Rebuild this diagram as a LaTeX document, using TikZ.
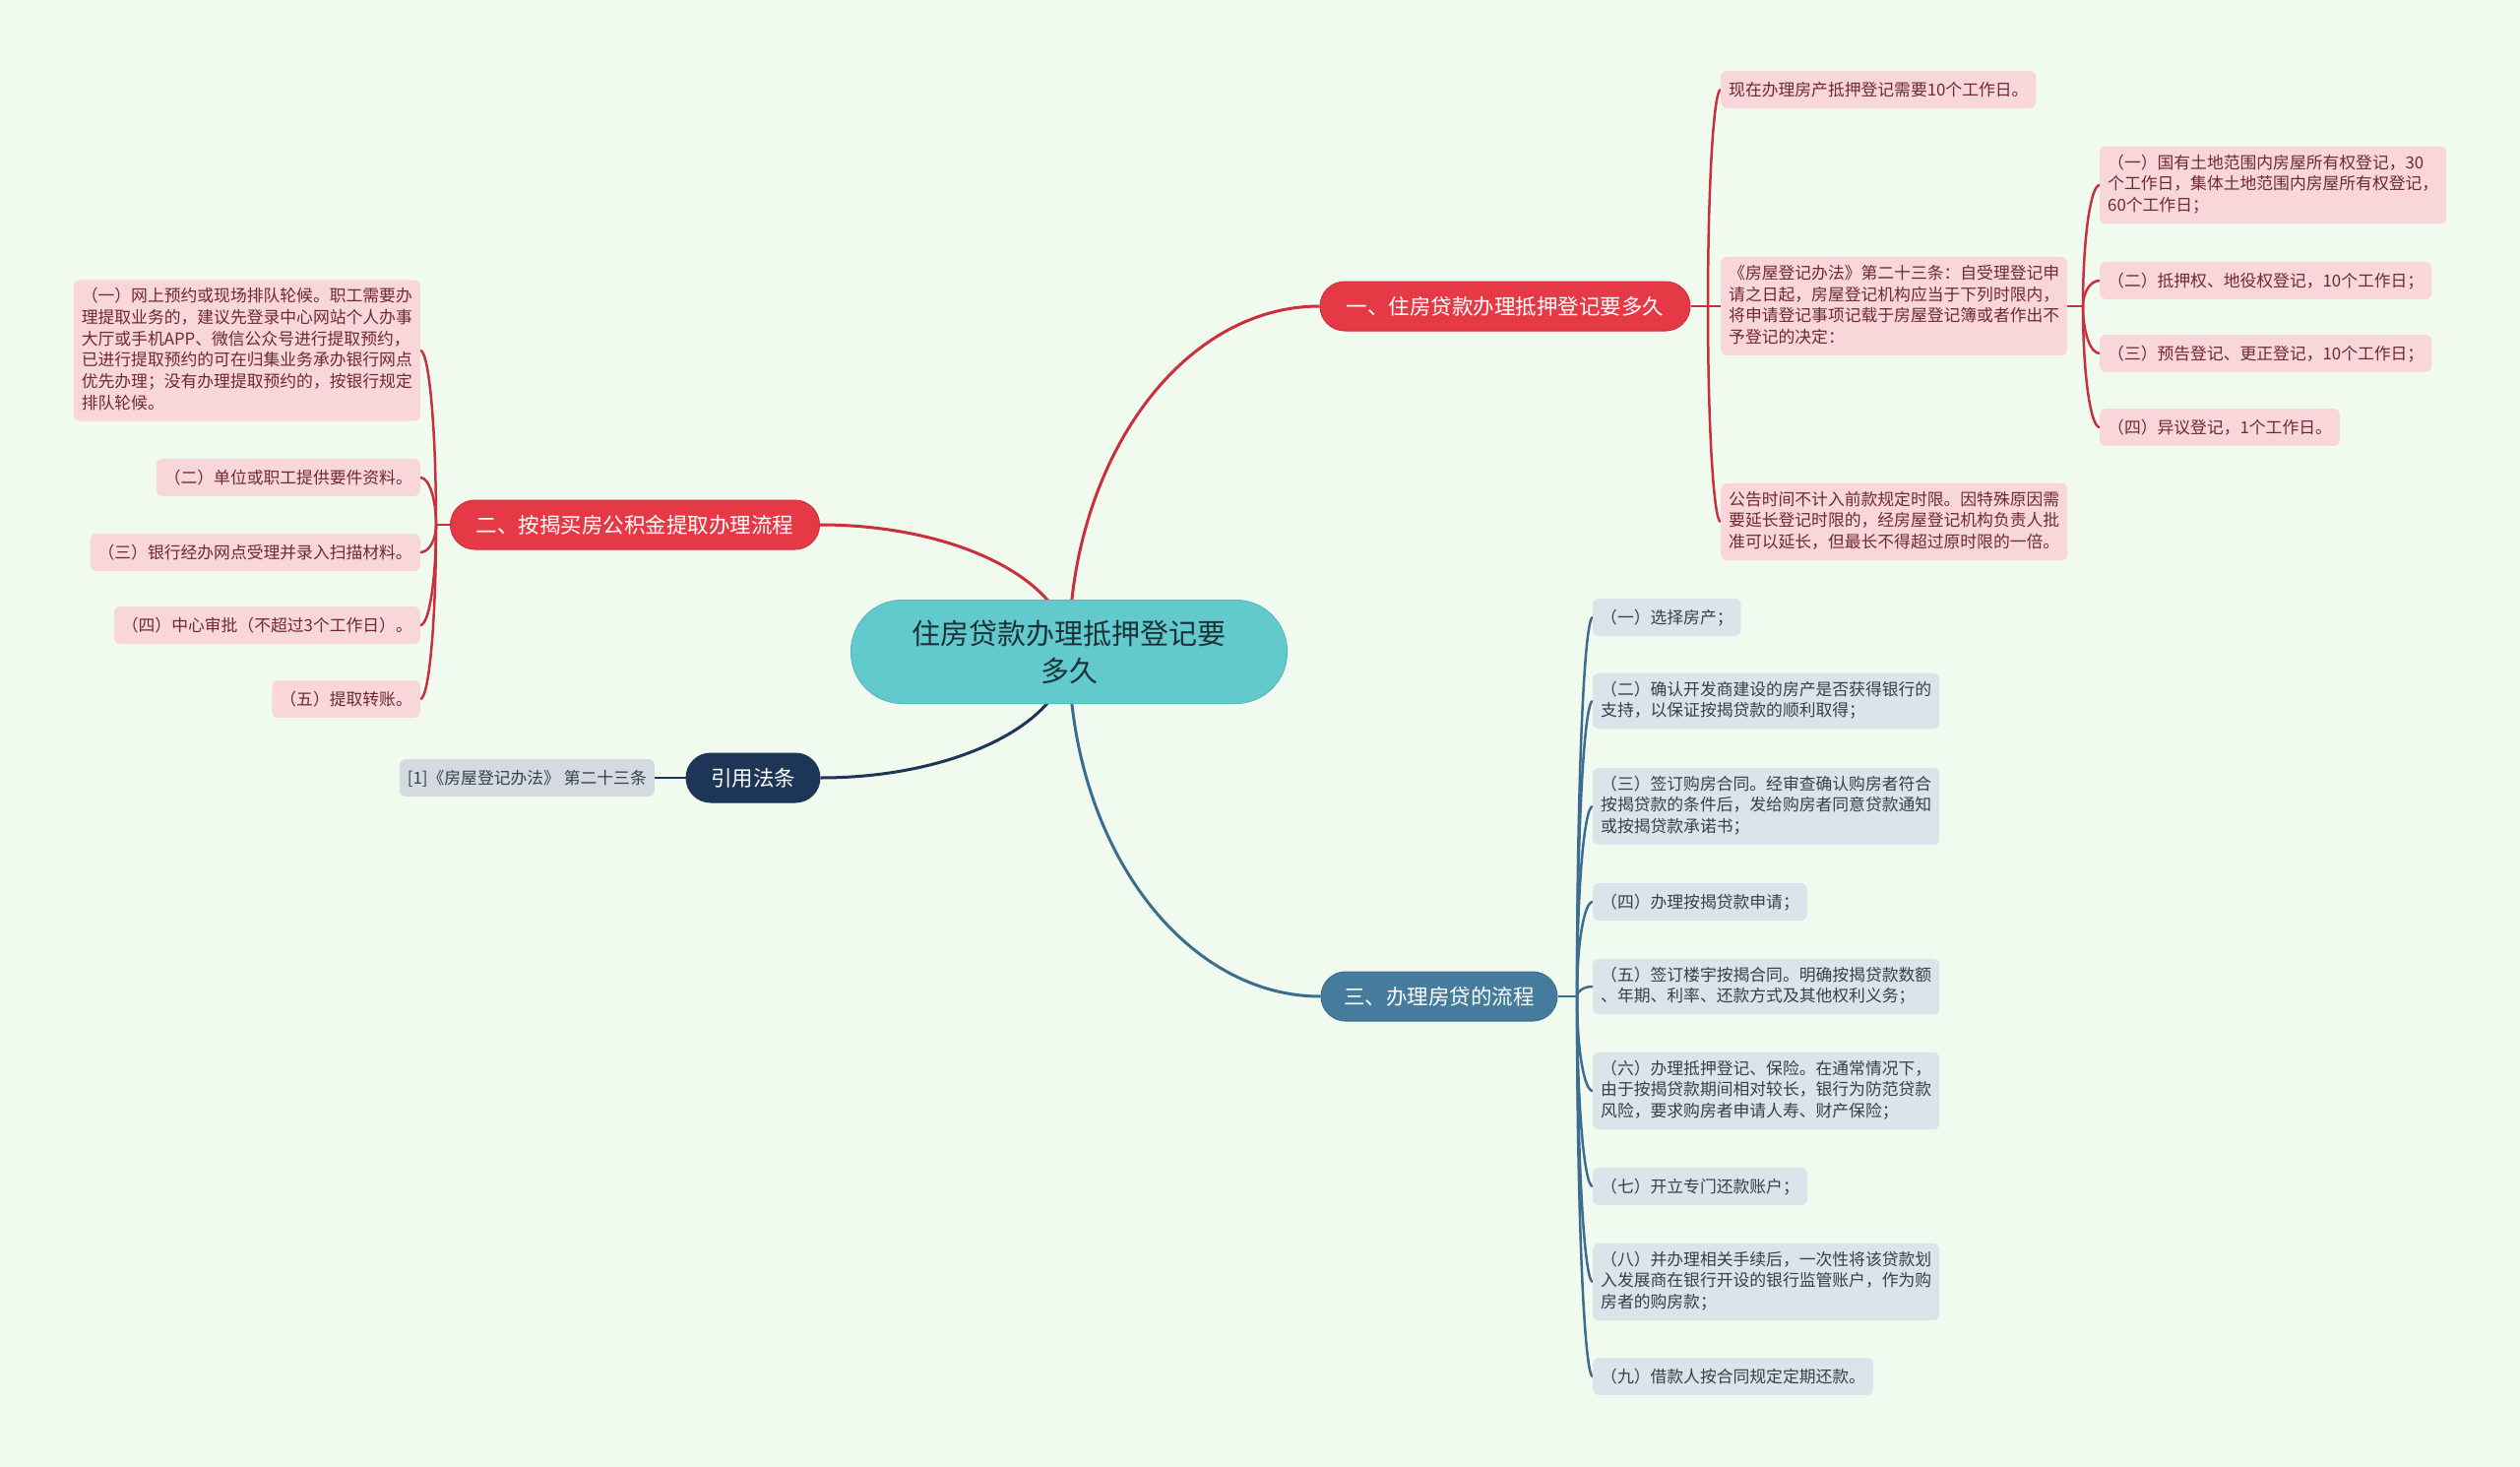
\documentclass[tikz,border=0pt]{standalone}
\usepackage{fontspec}
\setmainfont{Noto Sans CJK SC}
\usetikzlibrary{calc}
\pgfdeclarelayer{bg}
\pgfsetlayers{bg,main}
\definecolor{bgc}{HTML}{F1FAEE}
\definecolor{redf}{HTML}{E63946}
\definecolor{redd}{HTML}{CF303D}
\definecolor{redl}{HTML}{C8303D}
\definecolor{pinkf}{HTML}{F9D6DA}
\definecolor{pinkt}{HTML}{6E2A30}
\definecolor{bluef}{HTML}{457B9D}
\definecolor{bluel}{HTML}{3D6D8E}
\definecolor{bluelf}{HTML}{DCE4EB}
\definecolor{bluet}{HTML}{34404A}
\definecolor{navy}{HTML}{1D3557}
\definecolor{graylf}{HTML}{D5DAE0}
\definecolor{tealf}{HTML}{62C9CD}
\definecolor{teald}{HTML}{55B9BE}
\definecolor{tealt}{HTML}{1B3338}
\newcommand\mmcurve[3][]{\draw[#1] (#2) .. controls ($(#2)!0.552!(#2|-#3)$) and ($(#3)!0.552!(#2|-#3)$) .. (#3);}
\newcommand\lstrut{\rule[-4.45pt]{0pt}{21.7pt}}
\begin{document}
\begin{tikzpicture}[x=1pt,y=-1pt,
  rootbox/.style={fill=tealf,draw=teald,line width=1pt,rounded corners=52pt,minimum width=443pt,minimum height=105pt,align=center,text=tealt,font=\fontsize{29}{38}\selectfont,inner sep=0pt},
  branch/.style={rounded corners=25pt,minimum height=50pt,inner sep=0pt,text=white,font=\fontsize{21.5}{26}\selectfont,line width=1pt},
  redbranch/.style={branch,fill=redf,draw=redd},
  bluebranch/.style={branch,fill=bluef,draw=bluel},
  navybranch/.style={branch,fill=navy,draw=navy},
  leaf/.style={rounded corners=6pt,inner xsep=8pt,inner ysep=8pt,align=left,font=\fontsize{16.8}{21.7}\selectfont,execute at begin node=\lstrut,execute at end node=\lstrut},
  pinkleaf/.style={leaf,fill=pinkf,text=pinkt},
  blueleaf/.style={leaf,fill=bluelf,text=bluet},
  grayleaf/.style={leaf,fill=graylf,text=bluet},
  redline/.style={draw=redl,line width=2.5pt},
  blueline/.style={draw=bluel,line width=2.5pt},
  navyline/.style={draw=navy,line width=2.5pt},
  mainred/.style={draw=redl,line width=3pt},
  mainblue/.style={draw=bluel,line width=3pt},
  mainnavy/.style={draw=navy,line width=3pt}
]
\useasboundingbox (0,0) rectangle (2560,1490);

% root and branches
\node[rootbox] (root) at (1086,662) {住房贷款办理抵押登记要\\多久};
\node[redbranch,minimum width=376pt] (b1) at (1529,311) {一、住房贷款办理抵押登记要多久};
\node[redbranch,minimum width=375pt] (b2) at (645,533) {二、按揭买房公积金提取办理流程};
\node[navybranch,minimum width=136pt] (b4) at (765,790) {引用法条};
\node[bluebranch,minimum width=240pt] (b3) at (1462,1012) {三、办理房贷的流程};

% branch 2 leaves
\node[pinkleaf,anchor=east] (l1) at (427,356) {（一）网上预约或现场排队轮候。职工需要办\\理提取业务的，建议先登录中心网站个人办事\\大厅或手机APP、微信公众号进行提取预约，\\已进行提取预约的可在归集业务承办银行网点\\优先办理；没有办理提取预约的，按银行规定\\排队轮候。};
\node[pinkleaf,anchor=east] (l2) at (427,485) {（二）单位或职工提供要件资料。};
\node[pinkleaf,anchor=east] (l3) at (427,561) {（三）银行经办网点受理并录入扫描材料。};
\node[pinkleaf,anchor=east] (l4) at (427,635) {（四）中心审批（不超过3个工作日）。};
\node[pinkleaf,anchor=east] (l5) at (427,710) {（五）提取转账。};

% reference leaf
\node[grayleaf,anchor=east] (r1) at (665,790) {[1]《房屋登记办法》 第二十三条};

% branch 1 leaves
\node[pinkleaf,anchor=west] (a1) at (1748,91) {现在办理房产抵押登记需要10个工作日。};
\node[pinkleaf,anchor=west] (a2) at (1748,311) {《房屋登记办法》第二十三条：自受理登记申\\请之日起，房屋登记机构应当于下列时限内，\\将申请登记事项记载于房屋登记簿或者作出不\\予登记的决定：};
\node[pinkleaf,anchor=west] (a3) at (1748,530) {公告时间不计入前款规定时限。因特殊原因需\\要延长登记时限的，经房屋登记机构负责人批\\准可以延长，但最长不得超过原时限的一倍。};

\node[pinkleaf,anchor=west] (d1) at (2133,188) {（一）国有土地范围内房屋所有权登记，30\\个工作日，集体土地范围内房屋所有权登记，\\60个工作日；};
\node[pinkleaf,anchor=west] (d2) at (2133,285) {（二）抵押权、地役权登记，10个工作日；};
\node[pinkleaf,anchor=west] (d3) at (2133,359) {（三）预告登记、更正登记，10个工作日；};
\node[pinkleaf,anchor=west] (d4) at (2133,434) {（四）异议登记，1个工作日。};

% branch 3 leaves
\node[blueleaf,anchor=west] (c1) at (1618,627) {（一）选择房产；};
\node[blueleaf,anchor=west] (c2) at (1618,712) {（二）确认开发商建设的房产是否获得银行的\\支持，以保证按揭贷款的顺利取得；};
\node[blueleaf,anchor=west] (c3) at (1618,819) {（三）签订购房合同。经审查确认购房者符合\\按揭贷款的条件后，发给购房者同意贷款通知\\或按揭贷款承诺书；};
\node[blueleaf,anchor=west] (c4) at (1618,916) {（四）办理按揭贷款申请；};
\node[blueleaf,anchor=west] (c5) at (1618,1002) {（五）签订楼宇按揭合同。明确按揭贷款数额\\、年期、利率、还款方式及其他权利义务；};
\node[blueleaf,anchor=west] (c6) at (1618,1108) {（六）办理抵押登记、保险。在通常情况下，\\由于按揭贷款期间相对较长，银行为防范贷款\\风险，要求购房者申请人寿、财产保险；};
\node[blueleaf,anchor=west] (c7) at (1618,1205) {（七）开立专门还款账户；};
\node[blueleaf,anchor=west] (c8) at (1618,1302) {（八）并办理相关手续后，一次性将该贷款划\\入发展商在银行开设的银行监管账户，作为购\\房者的购房款；};
\node[blueleaf,anchor=west] (c9) at (1618,1398) {（九）借款人按合同规定定期还款。};

\coordinate (J1) at (1735,311);
\coordinate (JB) at (2116,311);
\coordinate (J2) at (443,533);
\coordinate (J3) at (1602,1012);

\begin{pgfonlayer}{bg}
\fill[bgc] (0,0) rectangle (2560,1490);
% main curves
\mmcurve[mainred]{root.center}{b1.west}
\mmcurve[mainred]{root.center}{b2.east}
\mmcurve[mainnavy]{root.center}{b4.east}
\mmcurve[mainblue]{root.center}{b3.west}
% stubs
\draw[redline] (b1.east) -- (J1);
\draw[redline] (a2.east) -- (JB);
\draw[redline] (b2.west) -- (J2);
\draw[blueline] (b3.east) -- (J3);
\draw[navyline] (b4.west) -- (r1.east);
% leaf curves
\mmcurve[redline]{J1}{a1.west}
\mmcurve[redline]{J1}{a2.west}
\mmcurve[redline]{J1}{a3.west}
\mmcurve[redline]{JB}{d1.west}
\mmcurve[redline]{JB}{d2.west}
\mmcurve[redline]{JB}{d3.west}
\mmcurve[redline]{JB}{d4.west}
\mmcurve[redline]{J2}{l1.east}
\mmcurve[redline]{J2}{l2.east}
\mmcurve[redline]{J2}{l3.east}
\mmcurve[redline]{J2}{l4.east}
\mmcurve[redline]{J2}{l5.east}
\mmcurve[blueline]{J3}{c1.west}
\mmcurve[blueline]{J3}{c2.west}
\mmcurve[blueline]{J3}{c3.west}
\mmcurve[blueline]{J3}{c4.west}
\mmcurve[blueline]{J3}{c5.west}
\mmcurve[blueline]{J3}{c6.west}
\mmcurve[blueline]{J3}{c7.west}
\mmcurve[blueline]{J3}{c8.west}
\mmcurve[blueline]{J3}{c9.west}
\end{pgfonlayer}
\end{tikzpicture}
\end{document}
